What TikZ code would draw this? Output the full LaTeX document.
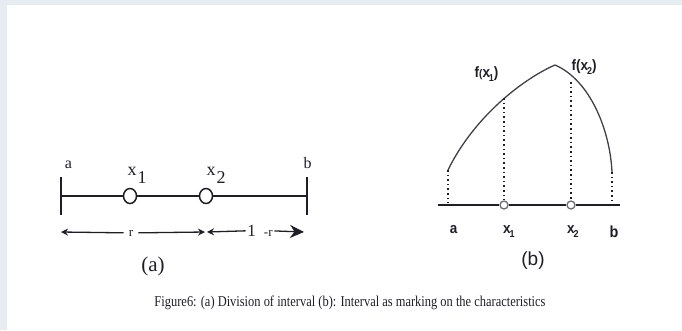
\documentclass[tikz,border=0pt]{standalone}
\usepackage{fontspec}
\setmainfont{Liberation Serif}
\newfontfamily\arialf{Liberation Sans}
\usetikzlibrary{arrows.meta,shapes.geometric}
\definecolor{frame}{HTML}{E6ECF1}
\definecolor{ink}{HTML}{1E1E2A}
\newcommand\lowsub[1]{\kern-1.2pt\raisebox{-4pt}{\fontsize{10}{10}\selectfont #1}}
\newcommand\bigsub[1]{\kern1pt\raisebox{-8.5pt}{#1}}
\begin{document}
\begin{tikzpicture}[x=1pt,y=-1pt,
  axis/.style={line width=1.4pt, draw=ink},
  tickline/.style={line width=1.6pt, draw=ink},
  hole/.style={ellipse, draw=ink, line width=1.5pt, fill=white, minimum width=13pt, minimum height=15pt, inner sep=0pt},
  smallhole/.style={circle, draw=ink!65, line width=1.3pt, fill=white, minimum size=8pt, inner sep=0pt},
  lbla/.style={text=ink, inner sep=0pt, font=\fontsize{16}{16}\selectfont},
  lblb/.style={text=ink, inner sep=0pt, font=\arialf\bfseries\fontsize{15}{15}\selectfont},
  dots/.style={line width=1.3pt, draw=ink, dash pattern=on 1.6pt off 3pt},
  curve/.style={line width=1.3pt, draw=ink!85},
  dimarrow/.style={line width=1.3pt, draw=ink, -{Stealth[length=7pt,width=7pt]}}
]
\useasboundingbox (0,0) rectangle (682,330);
\fill[frame] (0,0) rectangle (682,5);
\fill[frame] (0,0) rectangle (7,330);

% ---------- (a) ----------
\coordinate (A) at (61,196);
\coordinate (B) at (307,196);
\node[hole] (x1) at (130,196) {};
\node[hole] (x2) at (206,196) {};
\draw[axis] (A) -- (x1) (x1) -- (x2) (x2) -- (B);
\draw[tickline] (61,177) -- (61,215);
\draw[tickline] (307,177) -- (307,215);
\node[lbla, anchor=base] (la) at (68.5,168) {a};
\node[lbla, anchor=base] (lb) at (307.5,168) {b};
\node[lbla, font=\fontsize{18}{18}\selectfont, anchor=base west] (lx1) at (127.5,175) {x\bigsub{1}};
\node[lbla, font=\fontsize{18}{18}\selectfont, anchor=base west] (lx2) at (206.5,175) {x\bigsub{2}};

\coordinate (al) at (61,232);
\coordinate (am1) at (205,232);
\coordinate (am2) at (207,232);
\coordinate (ar) at (304,232);
\node[lbla, font=\fontsize{13}{13}\selectfont, inner xsep=5pt, anchor=base] (r) at (131,236) {r};
\node[lbla, inner xsep=1.5pt, anchor=base] (omr) at (260,236)
  {{\fontsize{17}{17}\selectfont 1}\ \ {\fontsize{13}{13}\selectfont -r}};
\draw[dimarrow] (r) -- (al);
\draw[dimarrow] (r) -- (am1);
\draw[dimarrow] (omr) -- (am2);
\draw[dimarrow, -{Stealth[length=14pt,width=13pt]}] (omr) -- (ar);
\node[text=ink, font=\fontsize{21}{21}\selectfont] (capa) at (153,266) {(a)};

% ---------- (b) ----------
\coordinate (axl) at (438,205);
\coordinate (axr) at (620,205);
\node[smallhole] (p1) at (504,205) {};
\node[smallhole] (p2) at (571,205) {};
\draw[axis, line width=1.6pt] (axl) -- (p1) (p1) -- (p2) (p2) -- (axr);
\coordinate (ca) at (448,170);
\coordinate (c1) at (504,98);
\coordinate (peak) at (555,65);
\coordinate (c2) at (571,82);
\coordinate (cb) at (612,172);
\draw[curve] (ca) .. controls (475,115) and (525,78) .. (peak)
  .. controls (590,80) and (610,130) .. (cb);
\draw[dots] (ca) -- (448,203);
\draw[dots] (c1) -- (p1);
\draw[dots] (c2) -- (p2);
\draw[dots] (cb) -- (612,203);
\node[lblb, anchor=base] (ba) at (453.5,233) {\scalebox{0.9}[1]{a}};
\node[lblb, anchor=base west] (bx1) at (503,233) {\scalebox{0.9}[1]{x\lowsub{1}}};
\node[lblb, anchor=base west] (bx2) at (567,233) {\scalebox{0.9}[1]{x\lowsub{2}}};
\node[lblb, font=\arialf\bfseries\fontsize{16}{16}\selectfont, anchor=base] (bb) at (614,237) {\scalebox{0.9}[1]{b}};
\node[lblb, anchor=base west] (fx1) at (474.5,77) {\scalebox{0.9}[1]{f{\fontsize{11}{11}\selectfont(}x\lowsub{1})}};
\node[lblb, anchor=base west] (fx2) at (571.5,70) {\scalebox{0.9}[1]{f(x\lowsub{2})}};
\node[text=ink, font=\arialf\fontsize{19}{19}\selectfont] (capb) at (533,261) {(b)};

% ---------- caption ----------
\node[text=ink, font=\fontsize{15}{15}\selectfont, inner sep=0pt] (cap) at (350,303)
  {\scalebox{0.83}[1]{Figure6: (a) Division of interval (b): Interval as marking on the characteristics}};
\end{tikzpicture}
\end{document}
